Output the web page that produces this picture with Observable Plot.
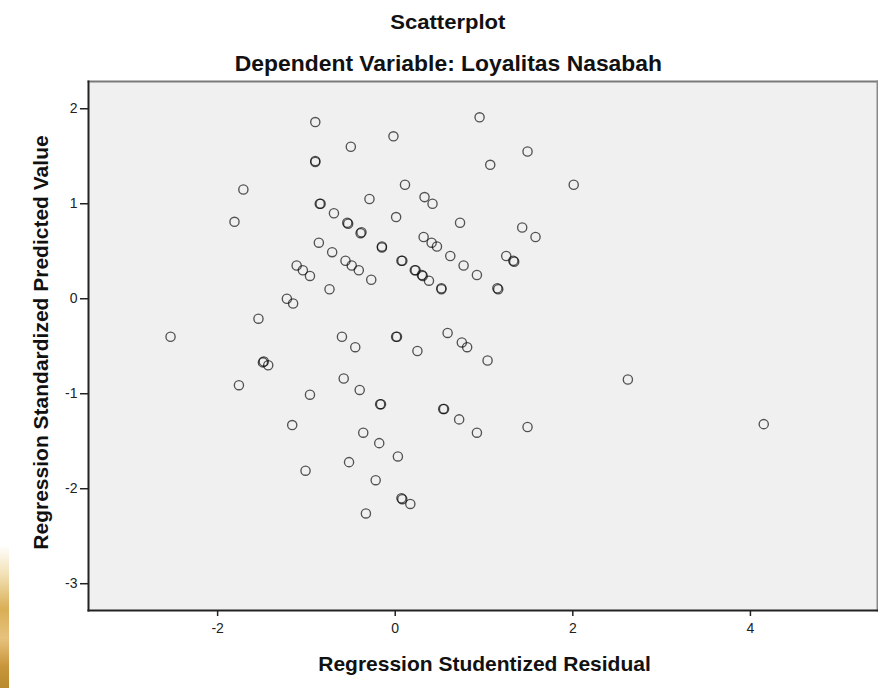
<!DOCTYPE html>
<html>
<head>
<meta charset="utf-8">
<script src="https://cdn.jsdelivr.net/npm/d3@7"></script>
<script src="https://cdn.jsdelivr.net/npm/@observablehq/plot@0.6"></script>
<style>
  html, body { margin: 0; padding: 0; background: #fff; }
  #wrap { position: relative; width: 878px; height: 688px; overflow: hidden; font-family: "Liberation Sans", Arial, sans-serif; }
  #titles { position: relative; width: 878px; height: 78px; }
  .t { position: absolute; left: 0; width: 896px; text-align: center; font-weight: bold; color: #111; white-space: nowrap; }
  .t span { display: inline-block; transform-origin: center; }
  #t1 { top: 11px; font-size: 21px; line-height: 21px; }
  #t1 span { transform: scaleX(1.05); }
  #t2 { top: 53px; font-size: 22px; line-height: 22px; }
  #t2 span { transform: scaleX(1.04); }
  #blob { position: absolute; left: 0; top: 545px; width: 9px; height: 143px;
    background: linear-gradient(to bottom, rgba(255,255,255,0), #f3e2b8 20%, #d9ae55 45%, #e7c27e 65%, #c8953a 85%, #b98a2e); }
</style>
</head>
<body>
<div id="wrap">
  <div id="titles">
    <div class="t" id="t1"><span>Scatterplot</span></div>
    <div class="t" id="t2"><span>Dependent Variable: Loyalitas Nasabah</span></div>
  </div>
  <div id="chart"></div>
  <div id="blob"></div>
</div>
<script>
const xLabel = "Regression Studentized Residual";
const yLabel = "Regression Standardized Predicted Value";
const xTicks = [-2, 0, 2, 4];
const yTicks = [-3, -2, -1, 0, 1, 2];
const xDomain = [-3.454, 5.431];
const yDomain = [-3.282, 2.287];

// Regression Studentized Residual
const residual = [
  -0.90, 0.95, -0.02, -0.50, 1.49, -0.90, -0.90, 1.07, 0.11, 2.01,
  -0.29, 0.33, 0.42, -0.85, -0.84, -0.69, -0.54, -0.53, 0.01, 0.73,
  -0.39, -0.38, 1.43, 1.58, -0.86, 0.32, 0.41, 0.47, -0.15, -0.15,
  -0.71, 0.62, 1.25, 1.33, 1.34, 0.07, 0.08, -0.56, -0.49, -0.41,
  0.77, -1.11, -1.04, -0.96, 0.23, 0.22, 0.30, 0.31, 0.38, 0.92,
  -0.27, -0.74, 0.52, 0.52, 1.15, 1.16, -1.22, -1.15, -1.54, -2.53,
  -0.60, -0.45, 0.01, 0.02, 0.59, 0.75, 0.81, 0.25, 1.04, -1.49,
  -1.48, -1.43, -1.76, -0.58, -0.40, -0.96, -0.17, -0.16, 0.54, 0.55,
  0.72, 0.92, 1.49, -1.16, -0.36, -0.18, 0.03, -0.52, -1.01, -0.22,
  0.08, 0.07, 0.17, -0.33, 2.62, 4.15, -1.71, -1.81
];
// Regression Standardized Predicted Value
const predicted = [
  1.86, 1.91, 1.71, 1.60, 1.55, 1.45, 1.44, 1.41, 1.20, 1.20,
  1.05, 1.07, 1.00, 1.00, 1.00, 0.90, 0.80, 0.79, 0.86, 0.80,
  0.69, 0.70, 0.75, 0.65, 0.59, 0.65, 0.59, 0.55, 0.54, 0.55,
  0.49, 0.45, 0.45, 0.40, 0.39, 0.40, 0.40, 0.40, 0.35, 0.30,
  0.35, 0.35, 0.30, 0.24, 0.30, 0.30, 0.25, 0.24, 0.19, 0.25,
  0.20, 0.10, 0.11, 0.10, 0.11, 0.10, 0.00, -0.05, -0.21, -0.40,
  -0.40, -0.51, -0.40, -0.40, -0.36, -0.46, -0.51, -0.55, -0.65, -0.67,
  -0.66, -0.70, -0.91, -0.84, -0.96, -1.01, -1.11, -1.11, -1.16, -1.16,
  -1.27, -1.41, -1.35, -1.33, -1.41, -1.52, -1.66, -1.72, -1.81, -1.91,
  -2.11, -2.10, -2.16, -2.26, -0.85, -1.32, 1.15, 0.81
];

const data = residual.map((x, i) => ({x, y: predicted[i]}));
const fmt = d => String(d);
const font = "'Liberation Sans', Arial, sans-serif";

const chart = Plot.plot({
  width: 878,
  height: 610,
  marginTop: 3,
  marginBottom: 78,
  marginLeft: 88,
  marginRight: 1,
  style: {fontFamily: font, background: "white", overflow: "visible"},
  x: {domain: xDomain, label: null},
  y: {domain: yDomain, label: null},
  marks: [
    Plot.frame({fill: "#f0f0f0", stroke: "none"}),
    Plot.frame({anchor: "top", stroke: "#7a7a7a", strokeWidth: 2}),
    Plot.frame({anchor: "right", stroke: "#8a8a8a", strokeWidth: 2}),
    Plot.dot(data, {x: "x", y: "y", r: 4.6, fill: "none", stroke: "#000", strokeOpacity: 0.66, strokeWidth: 1.35}),
    Plot.axisX({ticks: xTicks, tickFormat: fmt, tickSize: 6, tickPadding: 7, fontSize: 14, color: "#222", strokeWidth: 1.5, label: null}),
    Plot.axisY({ticks: yTicks, tickFormat: fmt, tickSize: 8, tickPadding: 3, fontSize: 14, color: "#222", strokeWidth: 1.5, label: null}),
    Plot.frame({anchor: "left", stroke: "#222", strokeWidth: 2}),
    Plot.frame({anchor: "bottom", stroke: "#222", strokeWidth: 2}),
    Plot.text([xLabel], {text: d => d, frameAnchor: "bottom", textAnchor: "middle", dy: 60.7, dx: 1.5, lineAnchor: "bottom", fontSize: 21, fontWeight: "bold", fill: "#111"}),
    Plot.text([yLabel], {text: d => d, frameAnchor: "left", textAnchor: "middle", rotate: -90, dx: -40.5, dy: -3.5, lineAnchor: "bottom", fontSize: 21, fontWeight: "bold", fill: "#111"})
  ]
});
document.getElementById("chart").appendChild(chart);
</script>
</body>
</html>
